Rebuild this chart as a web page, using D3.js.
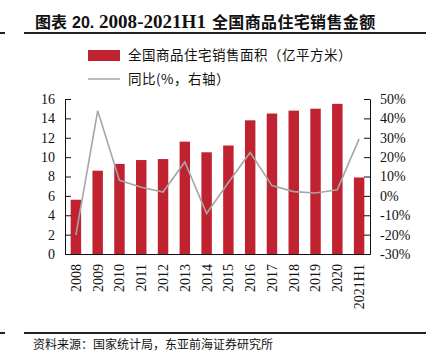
<!DOCTYPE html>
<html>
<head>
<meta charset="utf-8">
<script src="https://cdn.jsdelivr.net/npm/d3@7"></script>
<style>
  body { margin: 0; background: #fff; }
  svg { display: block; }
  text { font-family: "Liberation Serif", "Times New Roman", "Noto Sans CJK SC", serif; fill: #111; }
  .cjk { font-family: "Noto Sans CJK SC", "Liberation Serif", sans-serif; }
</style>
</head>
<body>
<svg id="chart"></svg>
<script>
const years = ['2008', '2009', '2010', '2011', '2012', '2013', '2014', '2015', '2016', '2017', '2018', '2019', '2020', '2021H1'];
const salesArea = [5.6, 8.6, 9.3, 9.7, 9.8, 11.6, 10.5, 11.2, 13.8, 14.5, 14.8, 15.0, 15.5, 7.9];
const yoyGrowth = [-20.3, 43.9, 8.0, 4.4, 2.0, 17.5, -9.1, 6.9, 22.4, 5.3, 2.2, 1.5, 3.2, 29.4];
const leftTicks = [0, 2, 4, 6, 8, 10, 12, 14, 16];
const rightTicks = [-30, -20, -10, 0, 10, 20, 30, 40, 50];

const width = 431;
const height = 364;
const margins = { left: 65, right: 61, top: 99, bottom: 110 };

const barColor = '#c0232f';
const lineColor = '#a6a6a6';

const svg = d3.select('#chart')
    .attr('width', width)
    .attr('height', height);

// title + rule
const title = svg.append('text')
    .attr('y', 28)
    .attr('font-size', 16)
    .attr('font-weight', 'bold');
title.append('tspan').attr('x', 35).attr('class', 'cjk').text('图表');
title.append('tspan').attr('x', 72)
    .attr('font-family', '"Liberation Sans", Arial, sans-serif')
    .text('20.');
title.append('tspan').attr('x', 99)
    .attr('font-family', '"Liberation Serif", "Times New Roman", serif')
    .attr('font-size', 18.5)
    .attr('textLength', 107)
    .attr('lengthAdjust', 'spacingAndGlyphs')
    .text('2008-2021H1');
title.append('tspan').attr('x', 212).attr('class', 'cjk')
    .attr('letter-spacing', 0.35)
    .text('全国商品住宅销售金额');

svg.append('line').attr('x1', 0).attr('x2', 5).attr('y1', 33).attr('y2', 33)
    .attr('stroke', '#222').attr('stroke-width', 2);
svg.append('line').attr('x1', 24).attr('x2', 426).attr('y1', 33).attr('y2', 33)
    .attr('stroke', '#222').attr('stroke-width', 2);

// legend
const legend = svg.append('g');
legend.append('rect')
    .attr('x', 88).attr('y', 50).attr('width', 32).attr('height', 11)
    .attr('fill', barColor);
legend.append('text')
    .attr('class', 'cjk')
    .attr('x', 128).attr('y', 55.5).attr('dy', '0.35em')
    .attr('font-size', 13.5)
    .attr('letter-spacing', 0.5)
    .text('全国商品住宅销售面积（亿平方米）');
legend.append('line')
    .attr('x1', 88).attr('x2', 120).attr('y1', 79).attr('y2', 79)
    .attr('stroke', lineColor).attr('stroke-width', 1.5);
legend.append('text')
    .attr('class', 'cjk')
    .attr('x', 128).attr('y', 79).attr('dy', '0.35em')
    .attr('font-size', 13.5)
    .attr('letter-spacing', 0.5)
    .text('同比(%，右轴）');

const x = d3.scaleBand()
    .domain(years)
    .range([margins.left, width - margins.right])
    .paddingInner(0.52)
    .paddingOuter(0.26);

const y = d3.scaleLinear()
    .domain([0, 16])
    .range([height - margins.bottom, margins.top]);

const y2 = d3.scaleLinear()
    .domain([-30, 50])
    .range([height - margins.bottom, margins.top]);

// bars
svg.append('g')
  .selectAll('rect')
  .data(years)
  .join('rect')
    .attr('x', d => x(d))
    .attr('width', x.bandwidth())
    .attr('y', (d, i) => y(salesArea[i]))
    .attr('height', (d, i) => y(0) - y(salesArea[i]))
    .attr('fill', barColor);

// yoy line
const line = d3.line()
    .x((d, i) => x(years[i]) + x.bandwidth() / 2)
    .y(d => y2(d));

svg.append('path')
    .datum(yoyGrowth)
    .attr('fill', 'none')
    .attr('stroke', lineColor)
    .attr('stroke-width', 1.6)
    .attr('d', line);

// axes
const leftAxis = d3.axisLeft(y)
    .tickValues(leftTicks)
    .tickSizeInner(-6)
    .tickSizeOuter(0)
    .tickPadding(10);

const rightAxis = d3.axisRight(y2)
    .tickValues(rightTicks)
    .tickFormat(d => d + '%')
    .tickSizeInner(-6)
    .tickSizeOuter(0)
    .tickPadding(10);

const gLeft = svg.append('g')
    .attr('transform', `translate(${margins.left},0)`)
    .call(leftAxis);

const gRight = svg.append('g')
    .attr('transform', `translate(${width - margins.right},0)`)
    .call(rightAxis);

[gLeft, gRight].forEach(g => {
  g.select('.domain').attr('stroke', '#111');
  g.selectAll('.tick line').attr('stroke', '#111');
  g.selectAll('.tick text')
      .attr('font-family', '"Liberation Serif", "Times New Roman", serif')
      .attr('font-size', 14)
      .attr('fill', '#111');
});

const xAxis = d3.axisBottom(x)
    .tickSize(0)
    .tickPadding(0);

const gBottom = svg.append('g')
    .attr('transform', `translate(0,${height - margins.bottom})`)
    .call(xAxis);

gBottom.select('.domain').attr('stroke', '#111');
gBottom.selectAll('.tick text')
    .attr('font-family', '"Liberation Serif", "Times New Roman", serif')
    .attr('font-size', 14)
    .attr('fill', '#111')
    .attr('text-anchor', 'end')
    .attr('transform', 'rotate(-90)')
    .attr('x', -10)
    .attr('y', 0)
    .attr('dy', '0.35em');

// source rule + note
svg.append('line').attr('x1', 0).attr('x2', 5).attr('y1', 333).attr('y2', 333)
    .attr('stroke', '#222').attr('stroke-width', 2);
svg.append('line').attr('x1', 24).attr('x2', 426).attr('y1', 333).attr('y2', 333)
    .attr('stroke', '#222').attr('stroke-width', 2);

svg.append('text')
    .attr('class', 'cjk')
    .attr('x', 33)
    .attr('y', 345).attr('dy', '0.35em')
    .attr('font-size', 12)
    .attr('fill', '#333')
    .text('资料来源：国家统计局，东亚前海证券研究所');
</script>
</body>
</html>
